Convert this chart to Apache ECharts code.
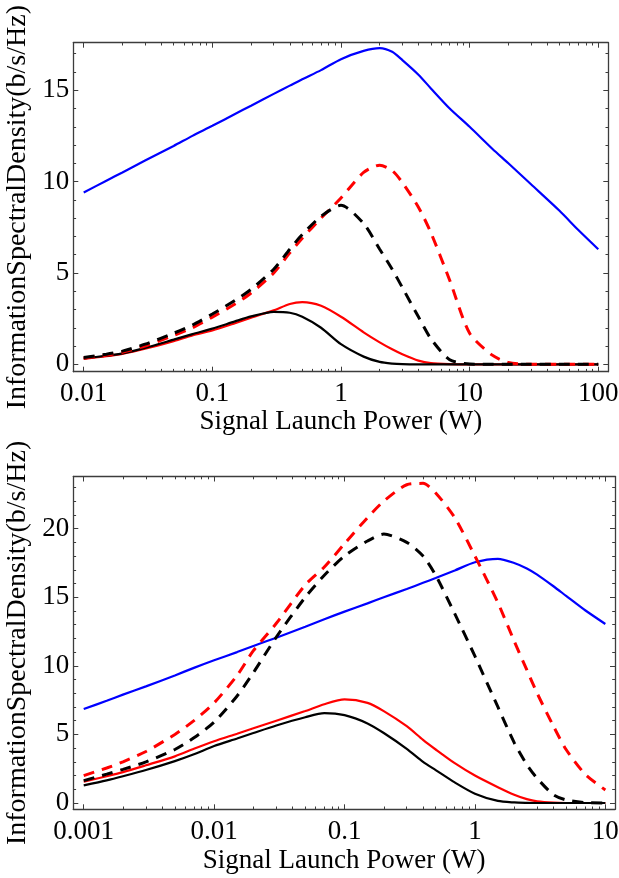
<!DOCTYPE html>
<html>
<head>
<meta charset="utf-8">
<script src="https://cdn.jsdelivr.net/npm/echarts@6/dist/echarts.min.js"></script>
<style>
  html, body { margin: 0; padding: 0; background: #fff; }
  #chart { width: 619px; height: 878px; }
</style>
</head>
<body>
<div id="chart"></div>
<script>
// upper panel, launch power 0.01 .. 100 W
const topPower = [0.01, 0.015, 0.02, 0.03, 0.05, 0.07, 0.1, 0.15, 0.2, 0.3, 0.4, 0.5, 0.7, 1, 1.5, 2, 2.5, 3, 4, 5, 7, 10, 15, 20, 30, 50, 70, 100];
const topBlue = [9.4, 10.05, 10.5, 11.15, 11.95, 12.5, 13.05, 13.7, 14.15, 14.8, 15.25, 15.6, 16.1, 16.7, 17.15, 17.3, 17.1, 16.65, 15.85, 15.1, 14.0, 13.0, 11.8, 11.0, 9.85, 8.4, 7.35, 6.3];
const topBlackDash = [0.37, 0.55, 0.72, 1.1, 1.7, 2.15, 2.75, 3.5, 4.1, 5.2, 6.3, 7.1, 8.1, 8.7, 7.7, 6.3, 5.2, 4.2, 2.6, 1.4, 0.25, 0.02, 0, 0, 0, 0, 0, 0];
const topRedDash = [0.34, 0.5, 0.66, 1.0, 1.58, 2.0, 2.58, 3.3, 3.9, 5.0, 6.1, 6.9, 8.0, 9.1, 10.5, 10.9, 10.6, 9.95, 8.6, 7.2, 4.6, 1.7, 0.5, 0.1, 0, 0, 0, 0];
const topBlack = [0.32, 0.47, 0.6, 0.9, 1.35, 1.65, 1.95, 2.35, 2.62, 2.87, 2.82, 2.6, 2.0, 1.1, 0.42, 0.13, 0.04, 0.01, 0, 0, 0, 0, 0, 0, 0, 0, 0, 0];
const topRed = [0.3, 0.44, 0.57, 0.85, 1.27, 1.58, 1.85, 2.25, 2.55, 2.95, 3.3, 3.4, 3.2, 2.6, 1.75, 1.2, 0.82, 0.55, 0.2, 0.06, 0.01, 0, 0, 0, 0, 0, 0, 0];

// lower panel, launch power 0.001 .. 10 W
const botPower = [0.001, 0.0015, 0.002, 0.003, 0.005, 0.007, 0.01, 0.015, 0.02, 0.03, 0.05, 0.07, 0.1, 0.15, 0.2, 0.3, 0.4, 0.5, 0.7, 1, 1.5, 2, 2.5, 3, 4, 5, 7, 10];
const botBlue = [6.85, 7.45, 7.9, 8.5, 9.3, 9.85, 10.4, 11.0, 11.45, 12.05, 12.85, 13.4, 13.95, 14.55, 15.0, 15.6, 16.05, 16.4, 16.95, 17.55, 17.8, 17.5, 17.1, 16.65, 15.8, 15.1, 14.05, 13.05];
const botRedDash = [2.0, 2.55, 3.0, 3.75, 5.0, 6.0, 7.3, 9.3, 11.1, 13.1, 15.9, 17.2, 18.9, 20.8, 22.0, 23.2, 23.3, 22.6, 20.8, 18.0, 14.6, 11.8, 9.7, 8.0, 5.6, 3.9, 2.1, 0.95];
const botBlackDash = [1.63, 2.1, 2.45, 3.0, 3.9, 4.75, 5.9, 7.8, 9.5, 12.1, 15.0, 16.6, 18.0, 19.1, 19.6, 19.0, 18.0, 16.6, 13.8, 10.7, 7.0, 4.4, 2.8, 1.8, 0.6, 0.22, 0.03, 0];
const botRed = [1.56, 1.95, 2.25, 2.75, 3.4, 3.95, 4.5, 5.05, 5.45, 6.0, 6.7, 7.2, 7.55, 7.3, 6.7, 5.6, 4.6, 3.9, 2.9, 2.0, 1.15, 0.6, 0.28, 0.12, 0.02, 0, 0, 0];
const botBlack = [1.28, 1.65, 1.95, 2.4, 3.05, 3.55, 4.15, 4.7, 5.1, 5.65, 6.25, 6.55, 6.4, 5.8, 5.1, 3.95, 3.0, 2.4, 1.5, 0.68, 0.15, 0.04, 0.01, 0, 0, 0, 0, 0];

// tick labels
const topXTicks = [0.01, 0.1, 1, 10, 100];
const botXTicks = [0.001, 0.01, 0.1, 1, 10];
const topYTicks = [0, 5, 10, 15];
const botYTicks = [0, 5, 10, 15, 20];

const xTitle = 'Signal Launch Power (W)';
const yTitle = 'InformationSpectralDensity(b/s/Hz)';

const font = "'Liberation Serif', 'Times New Roman', serif";
const frame = '#3c3c3c';
const textStyle = { color: '#000', fontFamily: font, fontSize: 27 };
const yTitleStyle = { color: '#000', fontFamily: font, fontSize: 28 };

// minor ticks 2..9 inside each decade
function logMinor(ticks) {
  const out = [];
  for (let i = 0; i < ticks.length - 1; i++) {
    for (let k = 2; k <= 9; k++) out.push(+(ticks[i] * k).toPrecision(3));
  }
  return out;
}
function linMinor(max) {
  const out = [];
  for (let v = 1; v <= max; v++) if (v % 5) out.push(v);
  return out;
}

function xAxes(grid, min, max, major, gap) {
  const minor = logMinor(major);
  const base = {
    type: 'log', logBase: 10, gridIndex: grid, min: min, max: max,
    splitLine: { show: false },
    axisLine: { show: false, onZero: false },
    axisLabel: { show: false }
  };
  const tick = (vals, len) => ({ inside: true, length: len, customValues: vals, lineStyle: { color: frame, width: 1 } });
  const line = { show: true, onZero: false, lineStyle: { color: frame, width: 1.3 } };
  return [
    Object.assign({}, base, {
      position: 'bottom', axisLine: line, axisTick: tick(major, 5),
      axisLabel: Object.assign({ show: true, customValues: major, margin: 9,
        formatter: v => String(+Number(v).toPrecision(4)) }, textStyle),
      name: xTitle, nameLocation: 'middle', nameGap: gap, nameTextStyle: textStyle
    }),
    Object.assign({}, base, { position: 'bottom', axisTick: tick(minor, 2.8) }),
    Object.assign({}, base, { position: 'top', axisLine: line, axisTick: tick(major, 5) }),
    Object.assign({}, base, { position: 'top', axisTick: tick(minor, 2.8) })
  ];
}

function yAxes(grid, min, max, major) {
  const minor = linMinor(max);
  const base = {
    type: 'value', gridIndex: grid, min: min, max: max,
    splitLine: { show: false },
    axisLine: { show: false, onZero: false },
    axisLabel: { show: false }
  };
  const tick = (vals, len) => ({ inside: true, length: len, customValues: vals, lineStyle: { color: frame, width: 1 } });
  const line = { show: true, onZero: false, lineStyle: { color: frame, width: 1.3 } };
  return [
    Object.assign({}, base, {
      position: 'left', axisLine: line, axisTick: tick(major, 5),
      axisLabel: Object.assign({ show: true, customValues: major, margin: 4 }, textStyle),
      name: yTitle, nameLocation: 'middle', nameGap: 38, nameTextStyle: yTitleStyle
    }),
    Object.assign({}, base, { position: 'left', axisTick: tick(minor, 2.8) }),
    Object.assign({}, base, { position: 'right', axisLine: line, axisTick: tick(major, 5) }),
    Object.assign({}, base, { position: 'right', axisTick: tick(minor, 2.8) })
  ];
}

function curve(grid, xs, ys, color, dashed) {
  return {
    type: 'line',
    xAxisIndex: grid * 4,
    yAxisIndex: grid * 4,
    data: xs.map((x, i) => [x, ys[i]]),
    symbol: 'none',
    smooth: 0.25,
    silent: true,
    lineStyle: { color: color, width: dashed ? 3 : 2.2, type: dashed ? [11, 8] : 'solid', cap: 'butt' }
  };
}

const myChart = echarts.init(document.getElementById('chart'));
const option = {
  animation: false,
  backgroundColor: '#fff',
  grid: [
    { left: 73.3, top: 42.7, width: 535, height: 329, containLabel: false, outerBoundsMode: 'none' },
    { left: 73.3, top: 476.5, width: 541.7, height: 332.8, containLabel: false, outerBoundsMode: 'none' }
  ],
  xAxis: xAxes(0, 0.0083, 119.7, topXTicks, 36).concat(xAxes(1, 0.000832, 11.86, botXTicks, 38)),
  yAxis: yAxes(0, -0.405, 17.6, topYTicks).concat(yAxes(1, -0.46, 23.8, botYTicks)),
  series: [
    curve(0, topPower, topBlue, '#0000ff', false),
    curve(0, topPower, topRed, '#ff0000', false),
    curve(0, topPower, topBlack, '#000000', false),
    curve(0, topPower, topRedDash, '#ff0000', true),
    curve(0, topPower, topBlackDash, '#000000', true),
    curve(1, botPower, botBlue, '#0000ff', false),
    curve(1, botPower, botRed, '#ff0000', false),
    curve(1, botPower, botBlack, '#000000', false),
    curve(1, botPower, botRedDash, '#ff0000', true),
    curve(1, botPower, botBlackDash, '#000000', true)
  ]
};
myChart.setOption(option);
window.addEventListener('resize', function () {
  myChart.resize();
});
</script>
</body>
</html>
